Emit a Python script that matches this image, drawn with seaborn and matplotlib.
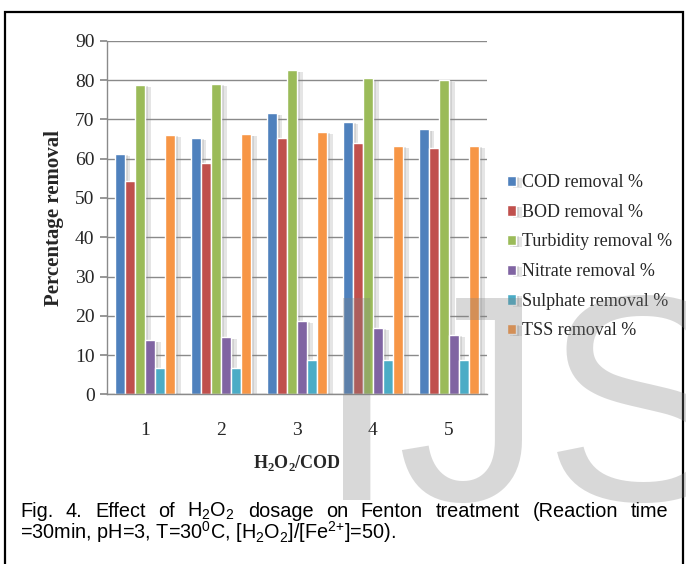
import numpy as np
import pandas as pd
import matplotlib
matplotlib.use("Agg")
import matplotlib.pyplot as plt
import seaborn as sns
from matplotlib import patheffects as pe
from matplotlib.patches import Rectangle

# ---- data ----
categories = ["1", "2", "3", "4", "5"]
cod = [61.2, 65.3, 71.5, 69.3, 67.5]
bod = [54.3, 59.0, 65.3, 64.0, 62.7]
turbidity = [78.7, 79.0, 82.5, 80.4, 80.1]
nitrate = [13.8, 14.5, 18.7, 17.0, 15.2]
sulphate = [6.7, 6.7, 8.7, 8.7, 8.7]
tss = [66.0, 66.2, 66.8, 63.2, 63.2]
series_names = ["COD removal %", "BOD removal %", "Turbidity removal %",
                "Nitrate removal %", "Sulphate removal %", "TSS removal %"]
colors = ["#4F81BD", "#C0504D", "#9BBB59", "#8064A2", "#4BACC6", "#F79646"]
y_ticks = [0, 10, 20, 30, 40, 50, 60, 70, 80, 90]

series_values = [cod, bod, turbidity, nitrate, sulphate, tss]
rows = []
for name, vals in zip(series_names, series_values):
    for c, v in zip(categories, vals):
        rows.append({"x": c, "value": v, "series": name})
df = pd.DataFrame(rows)

W, H = 686, 564
sns.set_theme(style="white")
plt.rcParams["font.family"] = ["Liberation Serif", "DejaVu Serif"]

fig = plt.figure(figsize=(W / 100, H / 100), dpi=100)
fig.patch.set_facecolor("white")
ax = fig.add_axes([107 / W, 1 - 394.4 / H, 380 / W, (394.4 - 40.7) / H])

sns.barplot(data=df, x="x", y="value", hue="series", order=categories,
            hue_order=series_names, palette=colors, width=0.8,
            saturation=1, ax=ax, errorbar=None)

for p in ax.patches:
    p.set_path_effects([pe.SimplePatchShadow(offset=(4, -1.5), shadow_rgbFace=(0.5, 0.5, 0.5), alpha=0.2),
                        pe.SimplePatchShadow(offset=(2, -1), shadow_rgbFace=(0.5, 0.5, 0.5), alpha=0.2),
                        pe.Normal()])

ax.set_ylim(0, 90)
ax.set_yticks(y_ticks)
ax.set_xlim(-0.5, 4.5)
ax.yaxis.grid(True, color="#8a8a8a", linewidth=1.0)
ax.set_axisbelow(True)
for s in ["top", "right"]:
    ax.spines[s].set_visible(False)
for s in ["left", "bottom"]:
    ax.spines[s].set_color("#8a8a8a")
    ax.spines[s].set_linewidth(1.0)
ax.tick_params(axis="y", which="both", left=True, length=5, color="#8a8a8a",
               labelsize=14, pad=4)
ax.tick_params(axis="x", bottom=False, labelsize=14, pad=14)
for lab in ax.get_xticklabels() + ax.get_yticklabels():
    lab.set_family(["Liberation Serif", "DejaVu Serif"])

ax.set_ylabel("Percentage removal", fontsize=15, fontweight="bold", labelpad=8)
ax.set_xlabel(r"H$_\mathregular{2}$O$_\mathregular{2}$/COD", fontsize=13,
              fontweight="bold", labelpad=10)

handles, labels = ax.get_legend_handles_labels()
ax.legend(handles, labels, loc="upper left", bbox_to_anchor=(500 / W, 1 - 167 / H),
          bbox_transform=fig.transFigure, frameon=False,
          prop={"family": ["Liberation Serif"], "size": 13},
          handlelength=0.5, handleheight=0.5, handletextpad=0.3,
          labelspacing=0.7, borderaxespad=0)

# frame around figure area
fig.patches.append(Rectangle((5 / W, -0.05), 678 / W, 1.05 - 12 / H,
                             transform=fig.transFigure, fill=False,
                             edgecolor="black", linewidth=1.6))

# caption, first line justified
cap_font = ["Liberation Sans", "DejaVu Sans"]
cap_size = 14.3
line1 = r"Fig. 4. Effect of H$_\mathregular{2}$O$_\mathregular{2}$ dosage on Fenton treatment (Reaction time"
line2 = (r"=30min, pH=3, T=30$^\mathregular{0}$C, [H$_\mathregular{2}$O$_\mathregular{2}$]/"
         r"[Fe$^\mathregular{2{+}}$]=50).")
y1 = 1 - 517 / H
y2 = 1 - 539 / H
fig.canvas.draw()
r = fig.canvas.get_renderer()
words = line1.split(" ")
texts = [fig.text(0, y1, w, family=cap_font, fontsize=cap_size, color="black",
                  va="baseline", ha="left") for w in words]
widths = [t.get_window_extent(r).width for t in texts]
x_left, x_right = 20, 668
gap = (x_right - x_left - sum(widths)) / (len(words) - 1)
xx = x_left
for t, w in zip(texts, widths):
    t.set_x(xx / W)
    xx += w + gap
fig.text(x_left / W, y2, line2, family=cap_font, fontsize=cap_size, color="black",
         va="baseline", ha="left")

# watermark
fig.text(316 / W, 1 - 500 / H, "IJS", family=["Liberation Sans"], fontsize=211,
         color="#808080", alpha=0.3, va="baseline", ha="left", zorder=10)

fig.savefig("out.png", dpi=100, facecolor="white")
